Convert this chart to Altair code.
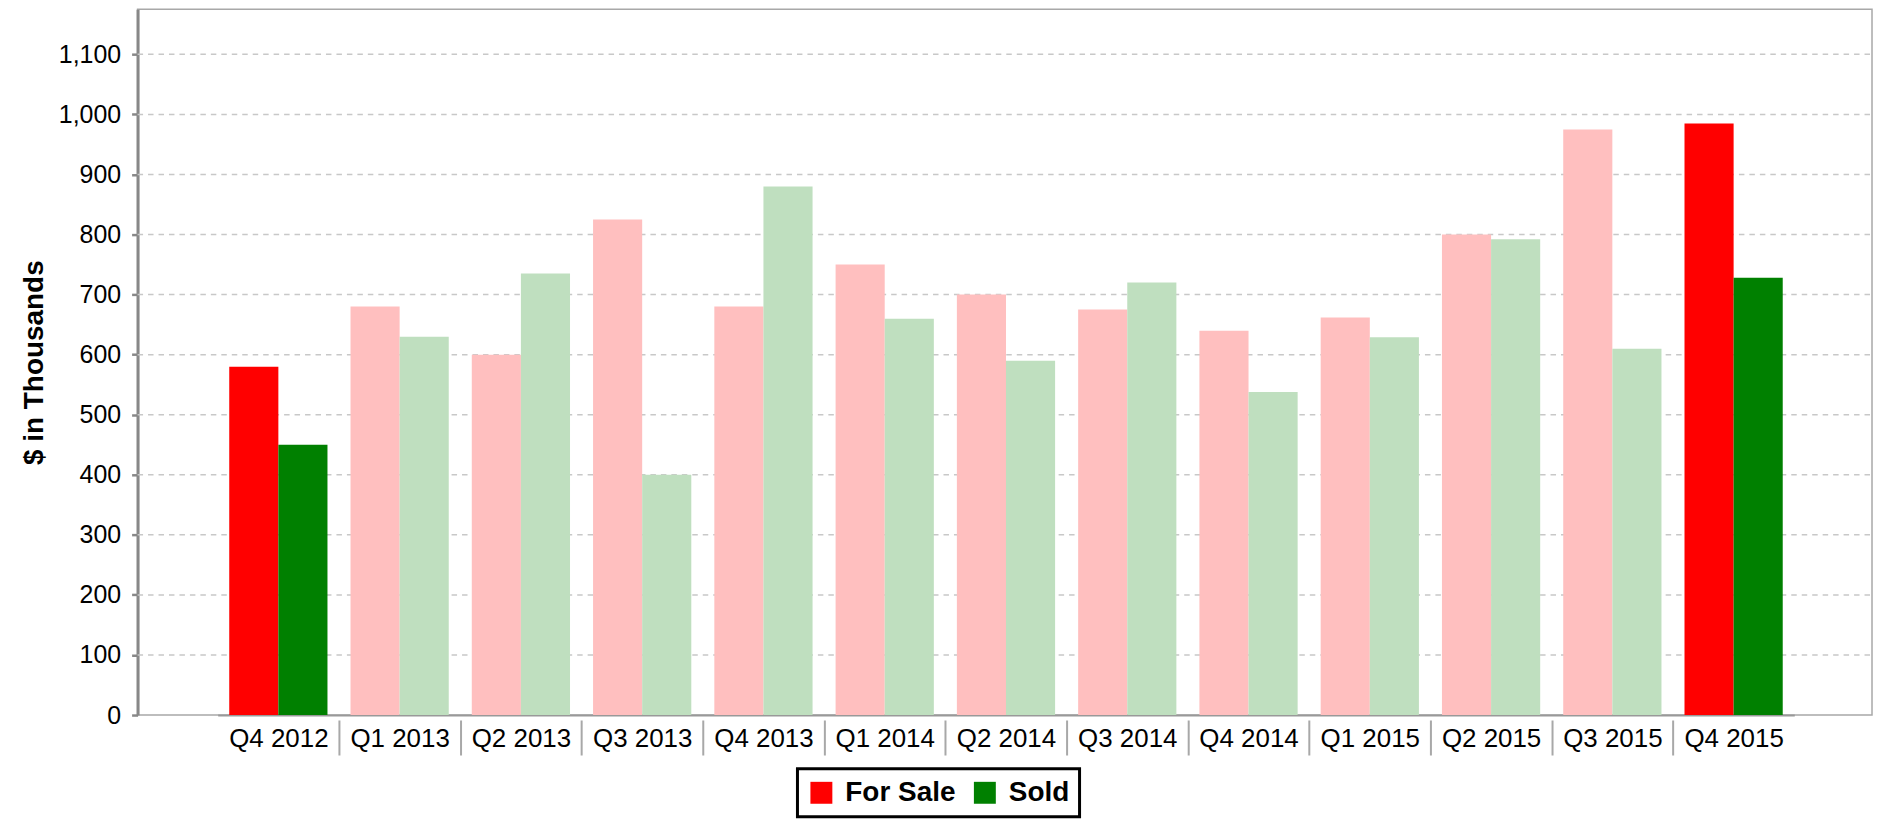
import altair as alt
import pandas as pd

# ---- data ----
quarters = ["Q4 2012", "Q1 2013", "Q2 2013", "Q3 2013", "Q4 2013", "Q1 2014", "Q2 2014",
            "Q3 2014", "Q4 2014", "Q1 2015", "Q2 2015", "Q3 2015", "Q4 2015"]
for_sale = [580, 680, 600, 825, 680, 750, 700, 675, 640, 662, 800, 975, 985]
sold = [450, 630, 735, 400, 880, 660, 590, 720, 538, 629, 792, 610, 728]
series_names = ["For Sale", "Sold"]
y_ticks = [0, 100, 200, 300, 400, 500, 600, 700, 800, 900, 1000, 1100]
highlighted = [quarters[0], quarters[-1]]

rows = []
for q, a, b in zip(quarters, for_sale, sold):
    rows.append({"quarter": q, "series": series_names[0], "value": a})
    rows.append({"quarter": q, "series": series_names[1], "value": b})
df = pd.DataFrame(rows)
grid_df = pd.DataFrame({"value": y_ticks[1:]})

hl_expr = " || ".join(f"datum.quarter === '{q}'" for q in highlighted)
key_expr = f"({hl_expr}) ? datum.series : datum.series + ' (past)'"
color_domain = series_names + [s + " (past)" for s in series_names]
color_range = ["#ff0000", "#008000", "#ffbfbf", "#bfdfbf"]

FONT = "Liberation Sans"
PLOT_W = 1740
PLOT_H = 708
RANGE_LO, RANGE_HI = 80.4, 1662
P_IN, P_OUT = 0.19, 0.095
STEP = (RANGE_HI - RANGE_LO) / (len(quarters) - P_IN + 2 * P_OUT)
Y_SCALE = alt.Scale(domain=[0, 1175], nice=False, zero=True)

x_axis = alt.Axis(
    title=None, labelAngle=0, labelFont=FONT, labelFontSize=26, labelColor="#000",
    labelOffset=STEP / 2, tickOffset=-STEP / 2, tickSize=40, tickDash=[0, 5, 35],
    tickColor="#a8a8a8", tickWidth=2,
    tickOpacity={"condition": {"test": f"datum.value === '{quarters[0]}'", "value": 0}, "value": 1},
    labelPadding=-8, labelBaseline="alphabetic", labelOverlap=False,
    domainColor="#999999", domainWidth=2, grid=False,
)

y_axis = alt.Axis(
    values=y_ticks, format=",d", title="$ in Thousands", titleFont=FONT, titleFontSize=28,
    titleFontWeight="bold", titleColor="#000", titlePadding=10,
    labelFont=FONT, labelFontSize=25, labelColor="#000", labelPadding=11,
    tickSize=6, tickColor="#888888", tickWidth=2.5,
    domainColor="#888888", domainWidth=3, grid=False,
)

legend = alt.Legend(
    values=series_names, title=None, orient="none", legendX=662, legendY=762,
    direction="horizontal", symbolType="square", symbolSize=484, symbolStrokeWidth=0,
    symbolOpacity=1, labelFont=FONT, labelFontSize=28, labelFontWeight="bold",
    labelColor="#000", labelOffset=10, columnPadding=15, padding=10,
    strokeColor="#000", fillColor="#ffffff",
)

grid = (
    alt.Chart(grid_df)
    .mark_rule(color="#c8c8c8", strokeWidth=1.5, strokeDash=[5.5, 5])
    .encode(
        y=alt.Y("value:Q", scale=Y_SCALE, axis=y_axis),
        x=alt.value(0),
        x2=alt.value(PLOT_W),
    )
)

bars = (
    alt.Chart(df)
    .transform_calculate(key=key_expr)
    .mark_bar()
    .encode(
        x=alt.X("quarter:N", sort=quarters,
                scale=alt.Scale(range=[RANGE_LO, RANGE_HI], paddingInner=P_IN, paddingOuter=P_OUT),
                axis=x_axis),
        xOffset=alt.XOffset("series:N", sort=series_names),
        y=alt.Y("value:Q", scale=Y_SCALE, axis=y_axis),
        color=alt.Color("key:N", scale=alt.Scale(domain=color_domain, range=color_range), legend=legend),
    )
)

chart = (
    alt.layer(grid, bars)
    .properties(
        width=PLOT_W, height=PLOT_H,
        autosize=alt.AutoSizeParams(type="none"),
        padding={"left": 130, "top": 0, "right": 1, "bottom": 109},
        background="#ffffff",
    )
    .configure_view(stroke="#a8a8a8", strokeWidth=1.5)
    .configure_legend(strokeWidth=3)
)

chart.save("out.html", embed_options={"renderer": "svg", "actions": False})
